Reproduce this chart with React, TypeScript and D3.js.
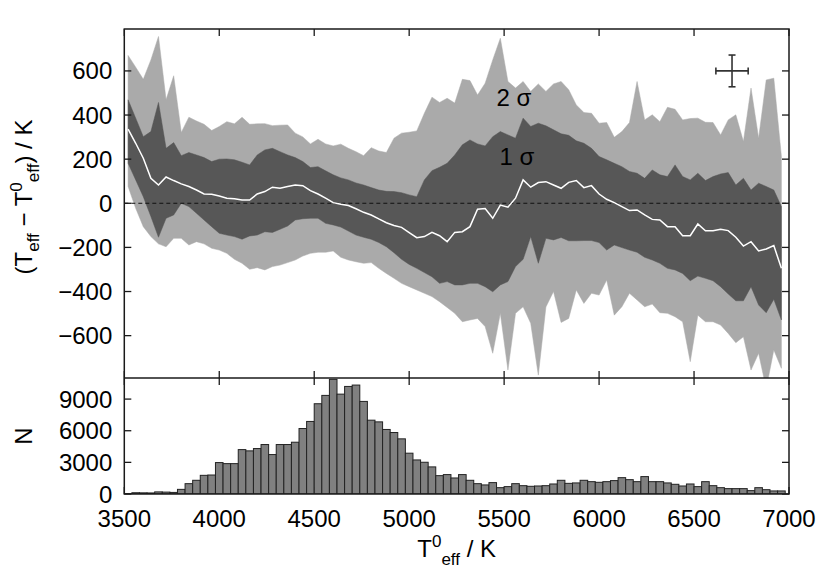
import React from "react";
import * as d3 from "d3";

// ---- data ----
const BIN_START = 3500;
const BIN_WIDTH = 40;

// 2-sigma band, upper / lower (K)
const SIGMA2_UPPER = [670,617,562,650,756,469,578,321,390,373,358,330,348,370,360,390,358,360,361,352,354,355,318,301,269,290,269,260,268,249,234,216,252,237,230,295,318,322,328,408,481,457,476,454,562,556,491,544,650,748,552,522,552,507,541,507,541,552,515,446,411,408,363,366,299,325,366,552,378,401,370,435,426,378,384,386,367,366,310,378,401,280,522,295,559,567,212];
const SIGMA2_LOWER = [76,-23,-106,-151,-184,-197,-159,-159,-189,-174,-184,-204,-212,-227,-254,-272,-299,-292,-302,-287,-280,-269,-257,-239,-227,-222,-222,-216,-245,-257,-265,-272,-269,-295,-318,-340,-363,-378,-393,-408,-423,-446,-472,-499,-537,-529,-522,-559,-680,-499,-756,-499,-469,-544,-779,-470,-400,-540,-522,-393,-454,-408,-416,-348,-507,-469,-408,-438,-469,-457,-496,-499,-514,-537,-718,-507,-537,-537,-552,-590,-632,-605,-756,-680,-840,-665,-748];
// 1-sigma band, upper / lower (K)
const SIGMA1_UPPER = [469,386,302,325,457,249,275,216,230,219,207,189,200,201,197,186,174,219,242,249,234,219,207,189,162,166,147,129,115,106,92,83,71,60,54,53,48,38,30,106,148,163,181,219,265,287,269,260,302,325,310,295,386,348,363,351,333,315,308,283,272,249,212,197,181,166,144,136,113,151,129,121,174,121,106,136,103,121,133,139,83,113,60,91,76,60,-15];
const SIGMA1_LOWER = [181,106,30,-60,-154,-68,-53,0,-15,-45,-76,-106,-136,-144,-151,-163,-148,-144,-129,-132,-118,-103,-76,-70,-68,-68,-91,-98,-108,-126,-144,-154,-163,-178,-197,-224,-254,-277,-295,-314,-333,-363,-355,-370,-370,-363,-363,-378,-401,-370,-355,-287,-254,-151,-272,-159,-166,-155,-170,-170,-169,-169,-178,-212,-189,-201,-212,-222,-245,-257,-272,-295,-302,-318,-351,-330,-340,-351,-378,-411,-442,-442,-378,-461,-496,-435,-529];
// median offset (white line)
const MEDIAN = [336,272,204,113,83,119,103,88,76,60,42,41,33,23,21,15,15,42,53,73,68,76,83,80,57,42,23,3,-4,-10,-25,-41,-53,-71,-88,-101,-109,-133,-156,-151,-132,-147,-174,-132,-129,-106,-27,-24,-68,-8,-18,23,106,73,94,98,83,68,95,103,71,80,42,18,3,-15,-33,-30,-53,-73,-76,-106,-106,-147,-147,-94,-125,-125,-118,-124,-154,-194,-174,-216,-207,-192,-295];
// histogram counts per 40 K bin
const COUNTS = [30,120,110,100,200,180,150,440,980,1300,1770,1800,2980,2880,2880,4210,4090,4310,4690,3740,4690,4690,4910,6210,6880,8560,9350,10870,9470,10200,10330,8780,7000,6840,6120,5830,5230,3870,3230,3010,2570,1740,1840,1520,1840,1300,980,860,1080,600,700,980,790,730,760,790,950,1300,1010,1050,1300,1170,1110,1170,1270,1550,1360,1170,1650,1170,1170,1050,920,760,950,700,1170,790,600,510,510,510,320,600,410,290,290];

const X_TICKS = [3500,4000,4500,5000,5500,6000,6500,7000];
const Y_TICKS_TOP = [-600,-400,-200,0,200,400,600];
const Y_TICKS_HIST = [0,3000,6000,9000];

const ERR_CENTER = { t: 6700, d: 600 };
const ERR_DT = 85;
const ERR_DD = 72;

const LABEL_2S = { t: 5460, d: 440, text: "2 σ" };
const LABEL_1S = { t: 5475, d: 172, text: "1 σ" };

// ---- layout ----
const W = 830, H = 581;
const L = 124.3, R = 789;
const TOP = 29, MID = 378, BOT = 494;
const FONT = "'Liberation Sans', Arial, Helvetica, sans-serif";
const FS = 24;
const TICK = 7;

export default function App() {
  const x = d3.scaleLinear().domain([3500, 7000]).range([L, R]);
  const y = d3.scaleLinear().domain([-792, 790]).range([MID, TOP]);
  const yh = d3.scaleLinear().domain([0, 11000]).range([BOT, MID]);

  const rows = MEDIAN.map((m, i) => ({
    t: BIN_START + BIN_WIDTH * (i + 0.5),
    u2: SIGMA2_UPPER[i], l2: SIGMA2_LOWER[i],
    u1: SIGMA1_UPPER[i], l1: SIGMA1_LOWER[i], m,
  }));

  const area2 = d3.area<any>().x(d => x(d.t)).y0(d => y(d.l2)).y1(d => y(d.u2));
  const area1 = d3.area<any>().x(d => x(d.t)).y0(d => y(d.l1)).y1(d => y(d.u1));
  const medLine = d3.line<any>().x(d => x(d.t)).y(d => y(d.m));

  const ink = "#1a1a1a";

  return (
    <svg width={W} height={H} style={{ position: "absolute", left: 0, top: 0, background: "#fff" }}
      fontFamily={FONT}>
      <defs>
        <clipPath id="clipTop"><rect x={L} y={TOP} width={R - L} height={MID - TOP} /></clipPath>
        <clipPath id="clipHist"><rect x={L} y={MID} width={R - L} height={BOT - MID} /></clipPath>
      </defs>

      {/* bands */}
      <g clipPath="url(#clipTop)">
        <path d={area2(rows) || ""} fill="#aaaaaa" stroke="#aaaaaa" strokeWidth={0.5} />
        <path d={area1(rows) || ""} fill="#575757" stroke="#575757" strokeWidth={0.5} />
        <line x1={L} x2={R} y1={y(0)} y2={y(0)} stroke="#111" strokeWidth={1} strokeDasharray="4,3" />
        <path d={medLine(rows) || ""} fill="none" stroke="#fff" strokeWidth={1.5} />
      </g>

      {/* error bar */}
      <g stroke="#333" strokeWidth={1.6}>
        <line x1={x(ERR_CENTER.t - ERR_DT)} x2={x(ERR_CENTER.t + ERR_DT)} y1={y(ERR_CENTER.d)} y2={y(ERR_CENTER.d)} />
        <line x1={x(ERR_CENTER.t)} x2={x(ERR_CENTER.t)} y1={y(ERR_CENTER.d - ERR_DD)} y2={y(ERR_CENTER.d + ERR_DD)} />
        <line x1={x(ERR_CENTER.t - ERR_DT)} x2={x(ERR_CENTER.t - ERR_DT)} y1={y(ERR_CENTER.d) - 3.5} y2={y(ERR_CENTER.d) + 3.5} />
        <line x1={x(ERR_CENTER.t + ERR_DT)} x2={x(ERR_CENTER.t + ERR_DT)} y1={y(ERR_CENTER.d) - 3.5} y2={y(ERR_CENTER.d) + 3.5} />
        <line x1={x(ERR_CENTER.t) - 3.5} x2={x(ERR_CENTER.t) + 3.5} y1={y(ERR_CENTER.d - ERR_DD)} y2={y(ERR_CENTER.d - ERR_DD)} />
        <line x1={x(ERR_CENTER.t) - 3.5} x2={x(ERR_CENTER.t) + 3.5} y1={y(ERR_CENTER.d + ERR_DD)} y2={y(ERR_CENTER.d + ERR_DD)} />
      </g>

      {/* band labels */}
      <text x={x(LABEL_2S.t)} y={y(LABEL_2S.d)} fontSize={FS} fill="#000">{LABEL_2S.text}</text>
      <text x={x(LABEL_1S.t)} y={y(LABEL_1S.d)} fontSize={FS} fill="#000">{LABEL_1S.text}</text>

      {/* ticks (drawn under the bars) */}
      <g stroke={ink} strokeWidth={1.3}>
        {X_TICKS.map(t => (
          <g key={"xt" + t}>
            <line x1={x(t)} x2={x(t)} y1={TOP} y2={TOP + TICK} />
            <line x1={x(t)} x2={x(t)} y1={MID} y2={MID - TICK} />
            <line x1={x(t)} x2={x(t)} y1={MID} y2={MID + TICK} />
            <line x1={x(t)} x2={x(t)} y1={BOT} y2={BOT - TICK} />
          </g>
        ))}
        {Y_TICKS_TOP.map(v => (
          <g key={"yt" + v}>
            <line x1={L} x2={L + TICK} y1={y(v)} y2={y(v)} />
            <line x1={R} x2={R - TICK} y1={y(v)} y2={y(v)} />
          </g>
        ))}
        {Y_TICKS_HIST.map(v => (
          <g key={"yh" + v}>
            <line x1={L} x2={L + TICK} y1={yh(v)} y2={yh(v)} />
            <line x1={R} x2={R - TICK} y1={yh(v)} y2={yh(v)} />
          </g>
        ))}
      </g>

      {/* histogram */}
      <g clipPath="url(#clipHist)">
        {COUNTS.map((c, i) => {
          const t0 = BIN_START + BIN_WIDTH * i;
          const x0 = x(t0), x1 = x(t0 + BIN_WIDTH);
          return (
            <rect key={"b" + i} x={x0} y={yh(c)} width={x1 - x0} height={BOT - yh(c)}
              fill="#808080" stroke="#222" strokeWidth={1} />
          );
        })}
      </g>

      {/* frames */}
      <rect x={L} y={TOP} width={R - L} height={BOT - TOP} fill="none" stroke={ink} strokeWidth={1.5} />
      <line x1={L} x2={R} y1={MID} y2={MID} stroke={ink} strokeWidth={1.5} />

      {/* tick labels */}
      <g fontSize={FS} fill="#000">
        {Y_TICKS_TOP.map(v => (
          <text key={"ytl" + v} x={L - 12} y={y(v) + 8.5} textAnchor="end">{v < 0 ? "\u2212" + Math.abs(v) : String(v)}</text>
        ))}
        {Y_TICKS_HIST.map(v => (
          <text key={"yhl" + v} x={L - 12} y={yh(v) + 8.5} textAnchor="end">{String(v)}</text>
        ))}
        {X_TICKS.map(t => (
          <text key={"xtl" + t} x={x(t)} y={527} textAnchor="middle">{String(t)}</text>
        ))}
      </g>

      {/* axis titles */}
      <text x={x(5250)} y={557} fontSize={FS} textAnchor="middle" fill="#000">
        T<tspan fontSize={17} dy={-10}>0</tspan><tspan fontSize={17} dy={18}>eff</tspan><tspan dy={-8}> / K</tspan>
      </text>
      <text transform={`translate(32,197) rotate(-90)`} fontSize={FS} textAnchor="middle" fill="#000">
        (T<tspan fontSize={17} dy={7}>eff</tspan><tspan dy={-7}> {"\u2212"} T</tspan><tspan fontSize={17} dy={-10}>0</tspan><tspan fontSize={17} dy={17}>eff</tspan><tspan dy={-7}>) / K</tspan>
      </text>
      <text transform={`translate(32,436) rotate(-90)`} fontSize={FS} textAnchor="middle" fill="#000">N</text>
    </svg>
  );
}
